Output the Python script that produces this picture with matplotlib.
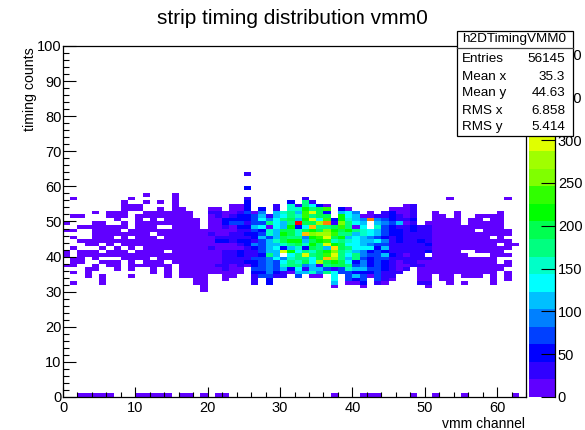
import numpy as np
import matplotlib
matplotlib.use("Agg")
import matplotlib.pyplot as plt
from matplotlib.colors import ListedColormap, BoundaryNorm
from matplotlib.patches import Rectangle
from matplotlib.lines import Line2D

plt.rcParams['font.family'] = ['Liberation Sans', 'DejaVu Sans']

W, H = 585, 430

# palette steps (20 contours)
level_width = 20.5
palette = ['#6000ff', '#3000ff', '#0000ff', '#0040ff', '#0080ff', '#00c0ff', '#00ffff',
           '#00ffc8', '#00ff80', '#00ff50', '#00ff00', '#30ff00', '#80ff00', '#a0ff00',
           '#e0ff00', '#ffe000', '#ffc000', '#ff8000', '#ff4000', '#ff0000']

# timing bin -> contour level per vmm channel, 16 channels per group
# '.' is an empty cell, 0-9 a-j are the contour levels
timing_bins = [63, 59, 57, 56, 55, 54, 53, 52, 51, 50, 49, 48, 47, 46, 45, 44, 43, 42,
               41, 40, 39, 38, 37, 36, 35, 34, 33, 32, 31, 30, 0]
cell_levels = [
    "................ .........1...... ................ ................",
    "................ .........2...... ................ ................",
    "...........0...0 ................ ................ ................",
    ".0.......0.....0 .........1...... .1.............. .....0.......0..",
    "........0..0.0.0 .........2.....2 .81............. ................",
    "........000....0 .......002...1.7 18620..........0 1...............",
    "........000..0.0 0...00.002.2.1.7 7a89b.20.....000 1...............",
    "....0.000..00000 00..11001304.578 5be92.564.0.1200 1..0..0.....0...",
    ".00...000.000000 00..010122351568 7b899.a650011210 1..00.0..0000...",
    ".......0..0.0.00 000.002222364689 5ae6b2a754h43211 2..0000.00.00...",
    "0...00..0.000000 000.002331338658 j99dh1c865.54350 1.00000.00000...",
    "..0000000.000..0 000.00102256065a 26g889b806.73211 2110000000000...",
    "00..0000.0000000 0000000011327599 79a9ca9a87653221 211000000.0000..",
    "....00000000.000 00001001122375a9 7gcddb8857653221 11100000000000..",
    ".0..000.0.000.00 0000011111253598 84abe9a565432121 11100000000.0...",
    "..00000000000000 000002212213579a a59ab78765564121 12100000000000..",
    "...00.0.00000000 0000000012435578 97a8ea9665433111 112000000000.00.",
    ".0...0.0.0.00000 0000100001235625 72985f9866625111 11100000000000..",
    "0.000.000.0000.0 00000011211355ea 6879ac8754232111 1120000..0000...",
    "0.00000000000000 00000011211285.6 8e89be8684335210 11.00000...000..",
    ".00.0...0000.000 0000001111334647 8869gd8583233111 111000000000....",
    ".00..000.0.000.0 0000001112234368 796d9a9624232101 100000000000.0..",
    "00..0.00.000000. 0000011010234378 8451899834232100 11000000000000..",
    "...00..0.0..0.0. 000000100.334352 6155313755332101 .000000000000...",
    ".0.0........0.0. 000000000.224210 557486332223111. .00000000000.0..",
    "...0.0...0....0. 0000..00..13311. 3.00.6.3530311.. .00.00.000.0.0..",
    ".....0.......... ..00..0...1.2... .....6.323.310.. .00.00.....0.0..",
    ".0...0.......... ..00......1.2... .....5.002.10... .11..0.0...0....",
    "................ ...0............ .....0...0...... ..0.............",
    "................ ...0............ ................ ................",
    "..00000...00000. 00.0.00......... .....0...000.... 0..0...0......0.",
]

n_channels = 64
n_timing = 100
bar_ticks = [0, 50, 100, 150, 200, 250, 300, 350, 400]
stats_names = ["Entries", "Mean x", "Mean y", "RMS x", "RMS y"]
stats_values = ["56145", "35.3", "44.63", "6.858", "5.414"]

# turn levels into counts at the middle of each contour
counts = np.full((n_timing, n_channels), np.nan)
for t, row in zip(timing_bins, cell_levels):
    row = row.replace(' ', '')
    for ch, c in enumerate(row):
        if c != '.':
            counts[t, ch] = (int(c, 20) + 0.5) * level_width


def fx(px):
    return px / W


def fy(py):
    return 1 - py / H


def put_axes(x0, y0, x1, y1):
    # pixel box, y measured from the top of the image
    return fig.add_axes([fx(x0), fy(y1), (x1 - x0) / W, (y1 - y0) / H])


fig = plt.figure(figsize=(W / 100, H / 100), dpi=100, facecolor='white')
ax = put_axes(63, 46, 526, 397)

cmap = ListedColormap(palette)
cmap.set_bad('white')
bounds = np.arange(len(palette) + 1) * level_width
norm = BoundaryNorm(bounds, cmap.N)
mesh = ax.pcolormesh(np.arange(n_channels + 1), np.arange(n_timing + 1), counts,
                     cmap=cmap, norm=norm, antialiased=False, linewidth=0)

ax.set_xlim(0, n_channels)
ax.set_ylim(0, n_timing)
ax.set_xticks(np.arange(0, 61, 10))
ax.set_yticks(np.arange(0, 101, 10))
ax.set_xticks(np.arange(0, 65, 2), minor=True)
ax.set_yticks(np.arange(0, 101, 2), minor=True)
# tick lengths are in points, the reference has 10 px on x and 13 px on y
ax.tick_params(axis='x', which='major', direction='in', length=7.2, width=0.8, labelsize=10.5, pad=3)
ax.tick_params(axis='x', which='minor', direction='in', length=3.6, width=0.8)
ax.tick_params(axis='y', which='major', direction='in', length=9.4, width=0.8, labelsize=10.5, pad=1)
ax.tick_params(axis='y', which='minor', direction='in', length=4.5, width=0.8)
for s in ax.spines.values():
    s.set_linewidth(0.9)

cax = put_axes(529, 46, 555, 397)
cbar = fig.colorbar(mesh, cax=cax, spacing='proportional', ticks=bar_ticks)
cbar.outline.set_visible(False)
cbar.ax.minorticks_off()
cax.spines['right'].set_visible(True)
cax.spines['right'].set_linewidth(0.9)
cax.tick_params(direction='in', length=10, width=0.8, labelsize=10.5, pad=2, right=True)
for lab in cax.get_yticklabels():
    lab.set_clip_on(False)

fig.text(fx(292.5), fy(18), "strip timing distribution vmm0", fontsize=15, ha='center', va='center')
fig.text(fx(30), fy(47), "timing counts", fontsize=10.2, rotation=90, ha='center', va='top')
fig.text(fx(525), fy(424), "vmm channel", fontsize=10, ha='right', va='center')

# stats box in pixel coordinates, drawn over the colour bar
fig.add_artist(Rectangle((fx(457), fy(136)), 116 / W, 105 / H, transform=fig.transFigure,
                         facecolor='white', edgecolor='black', linewidth=0.9, zorder=5))
fig.add_artist(Line2D([fx(457), fx(573)], [fy(48), fy(48)], color='#444444', linewidth=0.9, zorder=6))
fig.text(fx(514.5), fy(39), "h2DTimingVMM0", fontsize=9.7, ha='center', va='center', zorder=7)
stats_rows = [59, 77, 93, 111, 127]
for name, value, ypix in zip(stats_names, stats_values, stats_rows):
    fig.text(fx(462), fy(ypix), name, fontsize=9.7, ha='left', va='center', zorder=7)
    fig.text(fx(565), fy(ypix), value, fontsize=9.7, ha='right', va='center', zorder=7)

fig.savefig("out.png", dpi=100)
